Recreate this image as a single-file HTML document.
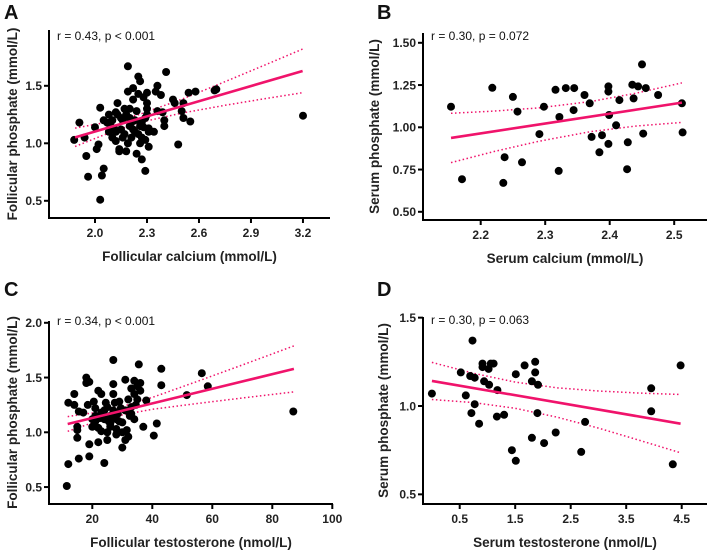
<!DOCTYPE html>
<html><head><meta charset="utf-8"><style>
html,body{margin:0;padding:0;background:#fff;}
svg{display:block;font-family:"Liberation Sans",Arial,sans-serif;}
.tick{font-size:12px;font-weight:bold;fill:#222;}
.title{font-size:13.5px;font-weight:bold;fill:#222;}
.ann{font-size:12px;fill:#111;}
.letter{font-size:20px;font-weight:bold;fill:#111;}
</style></head><body>
<svg id="fig" width="709" height="553" viewBox="0 0 709 553"></svg>
<script>
// Panel A data
const aX=[1.88,1.91,1.94,1.95,1.96,2.0,2.01,2.02,2.03,2.03,2.04,2.05,2.08,2.09,2.1,2.1,2.12,2.12,2.13,2.14,2.14,2.15,2.15,2.16,2.17,2.18,2.18,2.19,2.19,2.19,2.2,2.2,2.21,2.21,2.22,2.22,2.23,2.23,2.24,2.24,2.25,2.25,2.26,2.26,2.26,2.27,2.27,2.28,2.29,2.29,2.29,2.3,2.3,2.3,2.3,2.31,2.31,2.31,2.34,2.35,2.36,2.36,2.38,2.39,2.41,2.4,2.4,2.45,2.46,2.48,2.5,2.51,2.51,2.54,2.55,2.58,2.69,2.7,3.2,2.05,2.07,2.11,2.13,2.16,2.17,2.2,2.22,2.25,2.27,2.28,2.12,2.08];
const aY=[1.03,1.18,1.05,0.89,0.71,1.14,0.95,0.99,1.31,0.51,0.72,0.78,1.25,1.15,1.05,1.2,1.27,1.1,1.35,0.95,0.93,1.22,1.12,1.2,1.08,1.25,0.93,1.67,1.45,1.0,1.3,1.15,1.18,1.05,1.48,1.38,1.2,1.1,0.91,1.28,1.58,1.43,1.54,1.0,1.15,0.86,1.05,1.4,1.22,1.03,0.76,1.44,1.35,1.3,1.25,1.13,1.1,0.97,1.1,1.45,1.5,1.28,1.42,1.27,1.62,1.2,1.15,1.38,1.35,0.99,1.28,1.35,1.22,1.44,1.19,1.45,1.46,1.47,1.24,1.2,1.18,1.13,1.25,1.05,1.3,1.22,1.12,1.08,1.18,1.14,1.02,1.1];
const aFitX=[1.885,3.198];
const aFitY=[1.052,1.629];
const aCiX=[1.885,2.05,2.25,2.5,2.75,3.0,3.2];
const aCiUp=[1.132,1.178,1.248,1.383,1.536,1.693,1.821];
const aCiLo=[0.972,1.072,1.178,1.263,1.33,1.393,1.441];
const aXTicks=[2.0,2.3,2.6,2.9,3.2];
const aXLabels=["2.0","2.3","2.6","2.9","3.2"];
const aYTicks=[0.5,1.0,1.5];
const aYLabels=["0.5","1.0","1.5"];
// Panel B data
const bX=[2.154,2.171,2.218,2.237,2.235,2.25,2.257,2.264,2.291,2.298,2.316,2.322,2.321,2.332,2.345,2.344,2.361,2.369,2.372,2.384,2.388,2.398,2.398,2.399,2.398,2.41,2.415,2.428,2.427,2.435,2.437,2.444,2.45,2.452,2.456,2.475,2.512,2.513];
const bY=[1.122,0.693,1.234,0.823,0.671,1.18,1.093,0.793,0.96,1.122,1.222,1.061,0.742,1.232,1.232,1.102,1.191,1.142,0.943,0.852,0.953,1.242,1.211,1.073,0.902,1.012,1.161,0.911,0.752,1.252,1.171,1.242,1.372,0.963,1.232,1.191,1.142,0.97];
const bFitX=[2.154,2.512];
const bFitY=[0.937,1.146];
const bCiX=[2.154,2.22,2.29,2.37,2.44,2.512];
const bCiUp=[1.083,1.096,1.115,1.152,1.201,1.263];
const bCiLo=[0.791,0.856,0.917,0.974,1.007,1.029];
const bXTicks=[2.2,2.3,2.4,2.5];
const bXLabels=["2.2","2.3","2.4","2.5"];
const bYTicks=[0.5,0.75,1.0,1.25,1.5];
const bYLabels=["0.50","0.75","1.00","1.25","1.50"];
// Panel C data
const cX=[11.5,12,12,14,14,15,15,15,15.5,15.5,17,18,18,19,18.5,19,19,20,20,20.5,21,21,22,22,22,23,23,23,24,24,24.5,25,25,25.5,26,26,27,27,27,27.5,27,27,28,28,28.5,29,29,30,30,30,31,31,31,31.5,32,32,33,33,33,34,34,34,34.5,35,35,35.5,36,36,37,38,40.5,41.5,43,43,51.5,56.5,58.5,87,21,22.5,24,26,28,29.5,32.5,25];
const cY=[0.51,0.71,1.27,1.35,1.25,1.05,1.02,0.95,0.76,1.19,1.18,1.45,1.5,1.46,1.25,0.89,0.78,1.12,1.05,1.28,1.22,1.15,1.38,1.04,0.91,1.35,1.18,1.01,1.12,0.72,1.27,1.23,0.93,1.1,1.15,1.05,1.66,1.44,1.35,1.27,1.2,1.13,1.03,0.98,1.17,1.28,1.1,1.0,0.86,1.09,1.48,1.2,0.93,1.02,0.96,1.3,1.4,1.23,1.17,1.47,1.35,1.12,1.25,1.3,1.42,1.62,1.38,1.45,1.05,1.29,0.97,1.08,1.58,1.43,1.34,1.54,1.42,1.19,1.1,1.13,1.2,1.08,1.12,1.22,1.15,1.0];
const cFitX=[11.8,87.2];
const cFitY=[1.076,1.579];
const cCiX=[11.8,20,28,40,55,70,87.2];
const cCiUp=[1.143,1.176,1.219,1.319,1.465,1.615,1.789];
const cCiLo=[1.009,1.086,1.149,1.21,1.263,1.313,1.369];
const cXTicks=[20,40,60,80,100];
const cXLabels=["20","40","60","80","100"];
const cYTicks=[0.5,1.0,1.5,2.0];
const cYLabels=["0.5","1.0","1.5","2.0"];
// Panel D data
const dX=[0.0,0.52,0.61,0.69,0.73,0.71,0.77,0.77,0.85,0.91,0.91,0.94,1.02,1.03,1.06,1.11,1.17,1.18,1.30,1.44,1.51,1.51,1.67,1.80,1.80,1.86,1.86,1.90,1.91,2.02,2.23,2.69,2.76,3.95,3.95,4.34,4.48];
const dY=[1.07,1.19,1.06,1.17,1.37,0.96,1.16,1.01,0.90,1.24,1.22,1.14,1.21,1.12,1.24,1.24,0.94,1.09,0.95,0.75,1.18,0.69,1.23,1.14,0.82,1.19,1.25,0.96,1.12,0.79,0.85,0.74,0.91,1.10,0.97,0.67,1.23];
const dFitX=[0.0,4.48];
const dFitY=[1.142,0.90];
const dCiX=[0,0.75,1.5,2.25,3,3.75,4.48];
const dCiUp=[1.247,1.185,1.135,1.103,1.085,1.073,1.065];
const dCiLo=[1.037,1.019,0.987,0.937,0.875,0.805,0.735];
const dXTicks=[0.5,1.5,2.5,3.5,4.5];
const dXLabels=["0.5","1.5","2.5","3.5","4.5"];
const dYTicks=[0.5,1.0,1.5];
const dYLabels=["0.5","1.0","1.5"];

const NS="http://www.w3.org/2000/svg";
const svg=document.getElementById('fig');
const PINK="#f0136b";
function mk(tag,attrs,parent){const e=document.createElementNS(NS,tag);for(const k in attrs)e.setAttribute(k,attrs[k]);(parent||svg).appendChild(e);return e;}

function panel(id,o){
  const g=mk('g',{});
  
  
  const sx=v=>o.x0+(v-o.xRef)*o.xScale;
  const sy=v=>o.y0-(v-o.yRef)*o.yScale;
  const L=mk('text',{x:o.letterX,y:o.letterY,class:'letter'},g);L.textContent=id.toUpperCase();
  
  
  [o.ciUp,o.ciLo].forEach((arr,k)=>{
    const pts=o.ciX.map((x,i)=>sx(x).toFixed(1)+','+sy(arr[i]).toFixed(1)).join(' ');
    const p=mk('polyline',{points:pts,fill:'none',stroke:PINK,'stroke-width':1.5,'stroke-dasharray':'1.5,2.5'},g);
    
    
  });
  o.px.forEach((x,i)=>{
    const c=mk('circle',{cx:sx(x).toFixed(1),cy:sy(o.py[i]).toFixed(1),r:4,fill:'#000'},g);
    
    
  });
  const f=mk('line',{x1:sx(o.fitX[0]),y1:sy(o.fitY[0]),x2:sx(o.fitX[1]),y2:sy(o.fitY[1]),stroke:PINK,'stroke-width':2.6},g);
  
  
  const ya=mk('line',{x1:o.axL,y1:o.axT,x2:o.axL,y2:o.axB+1,stroke:'#000','stroke-width':2},g);
  
  
  const xa=mk('line',{x1:o.axL-1,y1:o.axB,x2:o.axR,y2:o.axB,stroke:'#000','stroke-width':2},g);
  
  
  o.xTicks.forEach((v,i)=>{
    const x=sx(v);
    mk('line',{x1:x,y1:o.axB,x2:x,y2:o.axB+5,stroke:'#000','stroke-width':2},g);
    const t=mk('text',{x:x,y:o.axB+19,'text-anchor':'middle',class:'tick'},g);t.textContent=o.xLabels[i];
    
    
  });
  o.yTicks.forEach((v,i)=>{
    const y=sy(v);
    mk('line',{x1:o.axL-5,y1:y,x2:o.axL,y2:y,stroke:'#000','stroke-width':2},g);
    const t=mk('text',{x:o.axL-7,y:y+4.3,'text-anchor':'end',class:'tick'},g);t.textContent=o.yLabels[i];
    
    
  });
  const xt=mk('text',{x:(o.axL+o.axR)/2,y:o.axB+43,'text-anchor':'middle',class:'title'},g);xt.textContent=o.xTitle;
  
  
  const cy=(o.axT+o.axB)/2;
  const yt=mk('text',{x:o.yTitleX,y:cy,'text-anchor':'middle',class:'title',transform:'rotate(-90 '+o.yTitleX+' '+cy+')'},g);yt.textContent=o.yTitle;
  
  
  const an=mk('text',{x:o.axL+8,y:o.annY,class:'ann'},g);an.textContent=o.ann;
  
  
}

panel('a',{px:aX,py:aY,fitX:aFitX,fitY:aFitY,ciX:aCiX,ciUp:aCiUp,ciLo:aCiLo,xTicks:aXTicks,xLabels:aXLabels,yTicks:aYTicks,yLabels:aYLabels,
  x0:95,xRef:2.0,xScale:173.3,y0:143.3,yRef:1.0,yScale:115,axL:49,axR:330,axT:30,axB:218,
  letterX:4,letterY:19,annY:40,ann:'r = 0.43, p < 0.001',xTitle:'Follicular calcium (mmol/L)',yTitle:'Follicular phosphate (mmol/L)',yTitleX:17});
panel('b',{px:bX,py:bY,fitX:bFitX,fitY:bFitY,ciX:bCiX,ciUp:bCiUp,ciLo:bCiLo,xTicks:bXTicks,xLabels:bXLabels,yTicks:bYTicks,yLabels:bYLabels,
  x0:480.7,xRef:2.2,xScale:645,y0:127.3,yRef:1.0,yScale:169,axL:423,axR:707,axT:33,axB:220,
  letterX:377,letterY:19,annY:40,ann:'r = 0.30, p = 0.072',xTitle:'Serum calcium (mmol/L)',yTitle:'Serum phosphate (mmol/L)',yTitleX:379});
panel('c',{px:cX,py:cY,fitX:cFitX,fitY:cFitY,ciX:cCiX,ciUp:cCiUp,ciLo:cCiLo,xTicks:cXTicks,xLabels:cXLabels,yTicks:cYTicks,yLabels:cYLabels,
  x0:92.3,xRef:20,xScale:3.0,y0:432.3,yRef:1.0,yScale:109.5,axL:49,axR:333,axT:321,axB:504,
  letterX:4,letterY:296,annY:325,ann:'r = 0.34, p < 0.001',xTitle:'Follicular testosterone (nmol/L)',yTitle:'Follicular phosphate (mmol/L)',yTitleX:17});
panel('d',{px:dX,py:dY,fitX:dFitX,fitY:dFitY,ciX:dCiX,ciUp:dCiUp,ciLo:dCiLo,xTicks:dXTicks,xLabels:dXLabels,yTicks:dYTicks,yLabels:dYLabels,
  x0:459.7,xRef:0.5,xScale:55.5,y0:406,yRef:1.0,yScale:176.7,axL:423,axR:707,axT:317,axB:504,
  letterX:377,letterY:296,annY:324,ann:'r = 0.30, p = 0.063',xTitle:'Serum testosterone (nmol/L)',yTitle:'Serum phosphate (mmol/L)',yTitleX:388});
</script>
</body></html>
